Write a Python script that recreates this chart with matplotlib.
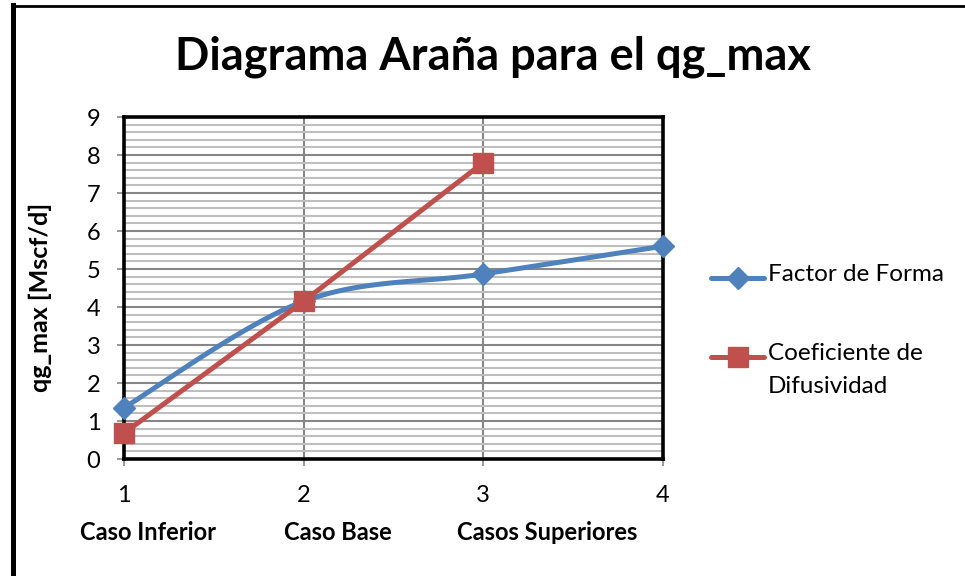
import numpy as np
import matplotlib.pyplot as plt
from matplotlib.lines import Line2D
from matplotlib.ticker import MultipleLocator

# datos
casos = [1, 2, 3, 4]
factor_forma = [1.35, 4.15, 4.87, 5.6]
casos_coef = [1, 2, 3]
coef_difusividad = [0.68, 4.15, 7.8]
nombres_casos = ["Caso Inferior", "Caso Base", "Casos Superiores"]
series = ["Factor de Forma", "Coeficiente de\nDifusividad"]

AZUL = "#4F81BD"
ROJO = "#C0504D"
W, H = 965, 576

plt.rcParams['font.family'] = ['Lato', 'DejaVu Sans']


def suavizar(x, y, n=40):
    """ Curva suavizada tipo Excel (Catmull-Rom) """
    x = np.asarray(x, float)
    y = np.asarray(y, float)
    px = np.concatenate([[x[0]], x, [x[-1]]])
    py = np.concatenate([[y[0]], y, [y[-1]]])
    xs, ys = [], []
    for i in range(1, len(px) - 2):
        p0 = np.array([px[i - 1], py[i - 1]])
        p1 = np.array([px[i], py[i]])
        p2 = np.array([px[i + 1], py[i + 1]])
        p3 = np.array([px[i + 2], py[i + 2]])
        c1 = p1 + (p2 - p0) / 6
        c2 = p2 - (p3 - p1) / 6
        t = np.linspace(0, 1, n)[:, None]
        b = ((1 - t) ** 3) * p1 + 3 * ((1 - t) ** 2) * t * c1 + 3 * (1 - t) * t ** 2 * c2 + t ** 3 * p2
        xs.extend(b[:, 0])
        ys.extend(b[:, 1])
    return np.array(xs), np.array(ys)


def fx(px):
    return px / W


def fy(py):
    return 1 - py / H


fig = plt.figure(figsize=(W / 100, H / 100), dpi=100)

# marco exterior
fig.add_artist(Line2D([fx(12.5), fx(12.5)], [0, fy(5)], transform=fig.transFigure,
                      color="black", lw=3.6, solid_capstyle="projecting"))
fig.add_artist(Line2D([fx(12.5), 1], [fy(6), fy(6)], transform=fig.transFigure,
                      color="black", lw=2.0))

ax = fig.add_axes([fx(124), fy(459), (663 - 124) / W, (459 - 117) / H])

ax.set_xlim(1, 4)
ax.set_ylim(0, 9)
ax.xaxis.set_major_locator(MultipleLocator(1))
ax.yaxis.set_major_locator(MultipleLocator(1))
ax.yaxis.set_minor_locator(MultipleLocator(0.2))
ax.grid(True, which="major", color="#868686", lw=1.5)
ax.grid(True, which="minor", axis="y", color="#BEBEBE", lw=1.5)
ax.set_axisbelow(True)

for s in ax.spines.values():
    s.set_linewidth(2.6)
    s.set_color("black")

ax.tick_params(which="major", length=5, width=1.2, color="#868686", labelsize=17)
ax.tick_params(axis="y", pad=12)
ax.tick_params(axis="x", pad=14)
ax.tick_params(which="minor", length=0)

xs, ys = suavizar(casos, factor_forma)
ax.plot(xs, ys, color=AZUL, lw=3.6, solid_capstyle="round", zorder=3, clip_on=False)
ax.plot(casos, factor_forma, ls="none", marker="D", ms=11, color=AZUL, zorder=4, clip_on=False)

ax.plot(casos_coef, coef_difusividad, color=ROJO, lw=3.6, marker="s", ms=14,
        zorder=5, clip_on=False)

fig.text(fx(40), fy(297), "qg_max [Mscf/d]", rotation=90, ha="center", va="center",
         fontsize=18, fontweight="bold")

fig.text(fx(493), fy(57), "Diagrama Araña para el qg_max", ha="center", va="center",
         fontsize=32.5, fontweight="bold")

for cx, nombre in zip([148, 338, 547], nombres_casos):
    fig.text(fx(cx), fy(533), nombre, ha="center", va="center",
             fontsize=17, fontweight="bold")

# leyenda dibujada a mano (marcador alineado con la primera linea del texto)
for color, marker, ms, yl, label in [(AZUL, "D", 11, 278, series[0]),
                                     (ROJO, "s", 14, 357, series[1])]:
    fig.add_artist(Line2D([fx(711), fx(764)], [fy(yl), fy(yl)], transform=fig.transFigure,
                          color=color, lw=3.6, solid_capstyle="round"))
    fig.add_artist(Line2D([fx(737.5)], [fy(yl)], transform=fig.transFigure,
                          color=color, marker=marker, ms=ms, ls="none"))
    fig.text(fx(768), fy(yl - 14), label, ha="left", va="top", fontsize=17.5,
             linespacing=1.7)

fig.savefig("out.png", dpi=100)
